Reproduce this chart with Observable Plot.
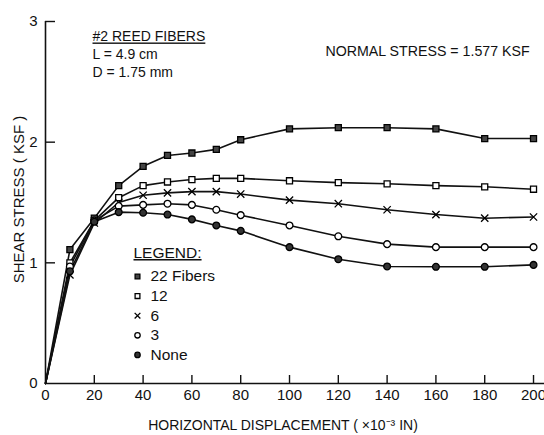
<!DOCTYPE html>
<html><head><meta charset="utf-8">
<script src="https://cdn.jsdelivr.net/npm/d3@7"></script>
<script src="https://cdn.jsdelivr.net/npm/@observablehq/plot@0.6"></script>
<style>
body{margin:0;background:#fff}
#chart{width:544px;height:435px}
svg{font-family:"Liberation Sans",Arial,sans-serif}
</style>
</head><body><div id="chart"></div>
<script>
// Horizontal displacement (x10^-3 in)
const displacement = [0, 10, 20, 30, 40, 50, 60, 70, 80, 100, 120, 140, 160, 180, 200];
// Shear stress (ksf) per fiber count
const fibers22 = [0, 1.11, 1.37, 1.64, 1.80, 1.89, 1.91, 1.94, 2.02, 2.11, 2.12, 2.12, 2.11, 2.03, 2.03];
const fibers12 = [0, 1.00, 1.35, 1.54, 1.64, 1.67, 1.69, 1.70, 1.70, 1.68, 1.665, 1.655, 1.64, 1.63, 1.61];
const fibers6  = [0, 0.90, 1.33, 1.50, 1.56, 1.58, 1.59, 1.59, 1.57, 1.52, 1.49, 1.44, 1.40, 1.37, 1.38];
const fibers3  = [0, 0.97, 1.35, 1.47, 1.48, 1.49, 1.48, 1.44, 1.395, 1.31, 1.22, 1.155, 1.13, 1.13, 1.13];
const fibersNone = [0, 0.93, 1.34, 1.42, 1.415, 1.40, 1.36, 1.31, 1.265, 1.13, 1.03, 0.97, 0.967, 0.967, 0.983];

const seriesNames = ["22 Fibers", "12", "6", "3", "None"];
const seriesValues = [fibers22, fibers12, fibers6, fibers3, fibersNone];
const seriesSymbols = ["square", "square", "times", "circle", "circle"];
const seriesFills = ["#444", "white", "none", "white", "#333"];

const xTicks = [0, 20, 40, 60, 80, 100, 120, 140, 160, 180, 200];
const yTicks = [0, 1, 2, 3];
const xTitle = "HORIZONTAL DISPLACEMENT ( ×10⁻³ IN)";
const yTitle = "SHEAR STRESS ( KSF )";
const noteTitle = "#2 REED FIBERS";
const noteLines = ["L = 4.9 cm", "D = 1.75 mm"];
const normalStress = "NORMAL STRESS = 1.577 KSF";
const legendTitle = "LEGEND:";

const rows = [];
seriesNames.forEach((s, i) => displacement.forEach((x, j) => rows.push({s, x, y: seriesValues[i][j]})));

const ink = "#111";
const txt = (t, o) => Plot.text([t], {text: d => d, fill: ink, lineAnchor: "middle", ...o});

const legendMarks = [];
seriesNames.forEach((s, i) => {
  legendMarks.push(Plot.dot([s], {frameAnchor: "top-left", dx: 92, dy: 255 + i * 19.6,
    symbol: () => seriesSymbols[i], r: 2.7, fill: seriesFills[i], stroke: "black", strokeWidth: 1.3}));
  legendMarks.push(txt(s, {frameAnchor: "top-left", dx: 105, dy: 255 + i * 19.6,
    textAnchor: "start", fontSize: 15.5, letterSpacing: "0.6px"}));
});

const dotMarks = seriesNames.map((s, i) => Plot.dot(rows.filter(d => d.s === s && d.x > 0), {
  x: "x", y: "y", symbol: () => seriesSymbols[i], r: 3.4, fill: seriesFills[i],
  stroke: "black", strokeWidth: 1.3
}));

const chart = Plot.plot({
  width: 544, height: 435,
  marginLeft: 45, marginRight: 0, marginTop: 21, marginBottom: 52,
  style: {background: "white", color: ink},
  x: {domain: [0, 204.5]},
  y: {domain: [0, 3]},
  symbol: {type: "identity"},
  marks: [
    Plot.ruleY([0], {stroke: ink, strokeWidth: 1.6}),
    Plot.ruleX([0], {stroke: ink, strokeWidth: 1.6}),
    // inward tick marks
    Plot.ruleX(xTicks.slice(1), {x: d => d, y1: 0, y2: 0, insetTop: -8, stroke: ink, strokeWidth: 1.4}),
    Plot.ruleY(yTicks.slice(1), {y: d => d, x1: 0, x2: 0, insetRight: -10, stroke: ink, strokeWidth: 1.4}),
    Plot.axisX(xTicks, {tickSize: 0, tickPadding: 6, fontSize: 15, label: null}),
    Plot.axisY(yTicks, {tickSize: 0, tickPadding: 8, fontSize: 15, label: null, tickFormat: "d"}),
    Plot.line(rows, {x: "x", y: "y", z: "s", stroke: ink, strokeWidth: 1.6}),
    ...dotMarks,
    txt(xTitle, {frameAnchor: "bottom", textAnchor: "middle", dx: -12, dy: 42, fontSize: 14}),
    txt(yTitle, {frameAnchor: "left", textAnchor: "middle", dx: -26, dy: -3, rotate: -90, fontSize: 15, letterSpacing: "0.4px"}),
    txt(noteTitle, {frameAnchor: "top-left", textAnchor: "start", dx: 47, dy: 15.5, fontSize: 14, className: "ul"}),
    ...noteLines.map((t, i) => txt(t, {frameAnchor: "top-left", textAnchor: "start", dx: 47, dy: 33.5 + i * 18, fontSize: 14})),
    txt(normalStress, {frameAnchor: "top-left", textAnchor: "start", dx: 280, dy: 29.5, fontSize: 14.2}),
    txt(legendTitle, {frameAnchor: "top-left", textAnchor: "start", dx: 88, dy: 231.5, fontSize: 15.5, letterSpacing: "0.5px", className: "ul"}),
    ...legendMarks
  ]
});
d3.select(chart).selectAll(".ul text").style("text-decoration", "underline");
document.getElementById("chart").appendChild(chart);
</script>
</body></html>
